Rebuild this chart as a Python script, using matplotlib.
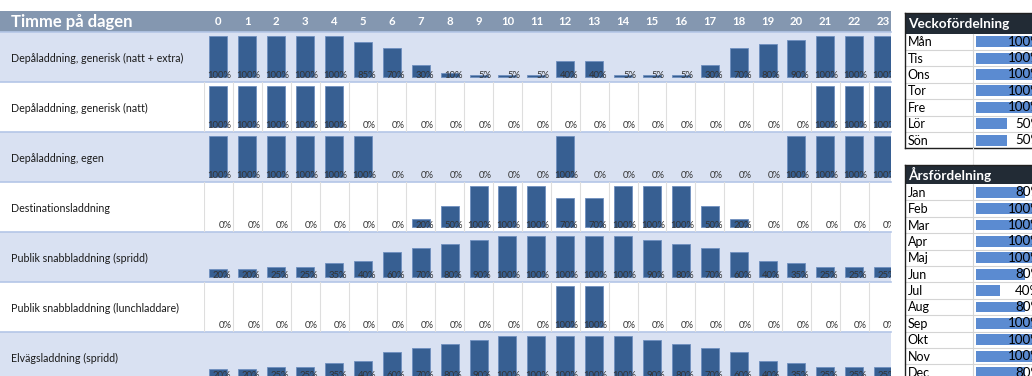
import matplotlib.pyplot as plt
from matplotlib.patches import Rectangle

plt.rcParams['font.family'] = ['Lato', 'DejaVu Sans']

# Laddprofiler per timme (andel av max, %)
hours = list(range(24))
row_names = [
    'Depåladdning, generisk (natt + extra)',
    'Depåladdning, generisk (natt)',
    'Depåladdning, egen',
    'Destinationsladdning',
    'Publik snabbladdning (spridd)',
    'Publik snabbladdning (lunchladdare)',
    'Elvägsladdning (spridd)',
]
generisk_extra = [100, 100, 100, 100, 100, 85, 70, 30, 10, 5, 5, 5,
                  40, 40, 5, 5, 5, 30, 70, 80, 90, 100, 100, 100]
generisk_natt = [100, 100, 100, 100, 100, 0, 0, 0, 0, 0, 0, 0,
                 0, 0, 0, 0, 0, 0, 0, 0, 0, 100, 100, 100]
depa_egen = [100, 100, 100, 100, 100, 100, 0, 0, 0, 0, 0, 0,
             100, 0, 0, 0, 0, 0, 0, 0, 100, 100, 100, 100]
destination = [0, 0, 0, 0, 0, 0, 0, 20, 50, 100, 100, 100,
               70, 70, 100, 100, 100, 50, 20, 0, 0, 0, 0, 0]
snabb_spridd = [20, 20, 25, 25, 35, 40, 60, 70, 80, 90, 100, 100,
                100, 100, 100, 90, 80, 70, 60, 40, 35, 25, 25, 25]
snabb_lunch = [0, 0, 0, 0, 0, 0, 0, 0, 0, 0, 0, 0,
               100, 100, 0, 0, 0, 0, 0, 0, 0, 0, 0, 0]
elvag_spridd = [20, 20, 25, 25, 35, 40, 60, 70, 80, 90, 100, 100,
                100, 100, 100, 90, 80, 70, 60, 40, 35, 25, 25, 25]
row_values = [generisk_extra, generisk_natt, depa_egen, destination,
              snabb_spridd, snabb_lunch, elvag_spridd]

veckodagar = ['Mån', 'Tis', 'Ons', 'Tor', 'Fre', 'Lör', 'Sön']
vecko_andel = [100, 100, 100, 100, 100, 50, 50]
manader = ['Jan', 'Feb', 'Mar', 'Apr', 'Maj', 'Jun', 'Jul', 'Aug',
           'Sep', 'Okt', 'Nov', 'Dec']
ars_andel = [80, 100, 100, 100, 100, 80, 40, 80, 100, 100, 100, 80]

W, H = 1032, 376
fig = plt.figure(figsize=(W / 100, H / 100), dpi=100)
bg = fig.add_axes([0, 0, 1, 1])
bg.set_xlim(0, W)
bg.set_ylim(H, 0)
bg.axis('off')


def px_axes(x0, y0, x1, y1):
    # axes placed in pixel coordinates (origin top left)
    return fig.add_axes([x0 / W, 1 - y1 / H, (x1 - x0) / W, (y1 - y0) / H])


# --- timprofiler ---
chart_right = 891
col_left, col_w = 204, 28.9
head_top, head_bot = 11, 31.7
row_h = 50
bar_col = '#375f92'

bg.add_patch(Rectangle((0, head_top), chart_right, head_bot - head_top,
                       color='#8497b0', lw=0))
mid = (head_top + head_bot) / 2
bg.text(11, mid + 0.5, 'Timme på dagen', color='white', fontweight='bold',
        fontsize=12, va='center')
for h in hours:
    bg.text(col_left + col_w * (h + 0.5), mid + 0.5, str(h), color='white',
            fontweight='bold', fontsize=8.2, ha='center', va='center')

scale = 100 / (row_h - 8.5)
x_end = -0.5 + (chart_right - col_left) / col_w
for i, (name, vals) in enumerate(zip(row_names, row_values)):
    top = head_bot + i * row_h
    bot = top + row_h
    shaded = i % 2 == 0
    if shaded:
        bg.add_patch(Rectangle((0, top), chart_right, row_h,
                               color='#d9e1f2', lw=0))
    bg.text(11, (top + bot) / 2 + 1.5, name, fontsize=7.7, va='center',
            color='#1a1a1a')

    ax = px_axes(col_left, top, chart_right, bot)
    ax.set_facecolor('none')
    ax.axis('off')
    ax.set_xlim(-0.5, x_end)
    ax.set_ylim(-4.5 * scale, 100 + 4 * scale)
    if not shaded:
        for k in range(25):
            ax.axvline(k - 0.5, color='#dedede', lw=0.8, zorder=0)
    edges = ['#6f8fbf' if v > 0 else 'none' for v in vals]
    ax.bar(hours, vals, width=0.62, color=bar_col, edgecolor=edges,
           linewidth=0.6, zorder=2)
    for h, v in zip(hours, vals):
        ax.annotate(f'{v}%', xy=(h + 0.5, 0), xytext=(-1.5, 2),
                    textcoords='offset pixels', ha='right', va='center',
                    fontsize=6.8, color='#333333', zorder=3,
                    clip_on=True, annotation_clip=False)

for k in range(8):
    y = head_bot + k * row_h
    bg.plot([0, chart_right], [y, y], color='#b4c6e7', lw=1.2)

# --- vecko- och årsfördelning ---
tx0, tdiv = 905, 973
bar_x0, bar_full = 975.5, 62
rh = 16.4


def fordelning(top, head_bot_y, title, labels, vals):
    n = len(labels)
    bottom = head_bot_y + n * rh
    bg.add_patch(Rectangle((tx0, top), W + 10 - tx0, head_bot_y - top,
                           color='#222b35', lw=0))
    bg.text(tx0 + 3, (top + head_bot_y) / 2 + 0.5, title, color='white',
            fontweight='bold', fontsize=9.8, va='center')
    for k, lab in enumerate(labels):
        y0 = head_bot_y + k * rh
        bg.text(tx0 + 2.5, y0 + rh / 2 + 0.5, lab, fontsize=9, va='center',
                color='black')
        bg.plot([tx0, W], [y0 + rh, y0 + rh], color='#d4d4d4', lw=0.8)
    bg.plot([tdiv, tdiv], [head_bot_y, bottom], color='#d4d4d4', lw=0.8)

    ax = px_axes(bar_x0, head_bot_y, bar_x0 + bar_full, bottom)
    ax.set_facecolor('none')
    ax.axis('off')
    ax.set_xlim(0, 100)
    ax.set_ylim(n - 0.5, -0.5)
    ax.barh(range(n), vals, height=0.66, color='#5b8bd1', lw=0)
    for k, v in enumerate(vals):
        ax.annotate(f'{v}%', xy=(100, k), xytext=(4, 0),
                    textcoords='offset pixels', ha='right', va='center',
                    fontsize=9.6, color='black', annotation_clip=False)

    # ram runt tabellen
    bg.plot([tx0, tx0], [top, bottom], color='#202020', lw=1)
    bg.plot([tx0, W], [top, top], color='#202020', lw=1)
    bg.plot([tx0, W], [bottom, bottom], color='#202020', lw=1)


fordelning(13, 33.5, 'Veckofördelning', veckodagar, vecko_andel)
gap_top = 33.5 + 7 * rh
bg.plot([tdiv, tdiv], [gap_top, gap_top + rh], color='#e4e4e4', lw=0.8)
fordelning(gap_top + rh, 184, 'Årsfördelning', manader, ars_andel)

fig.savefig('out.png', dpi=100)
